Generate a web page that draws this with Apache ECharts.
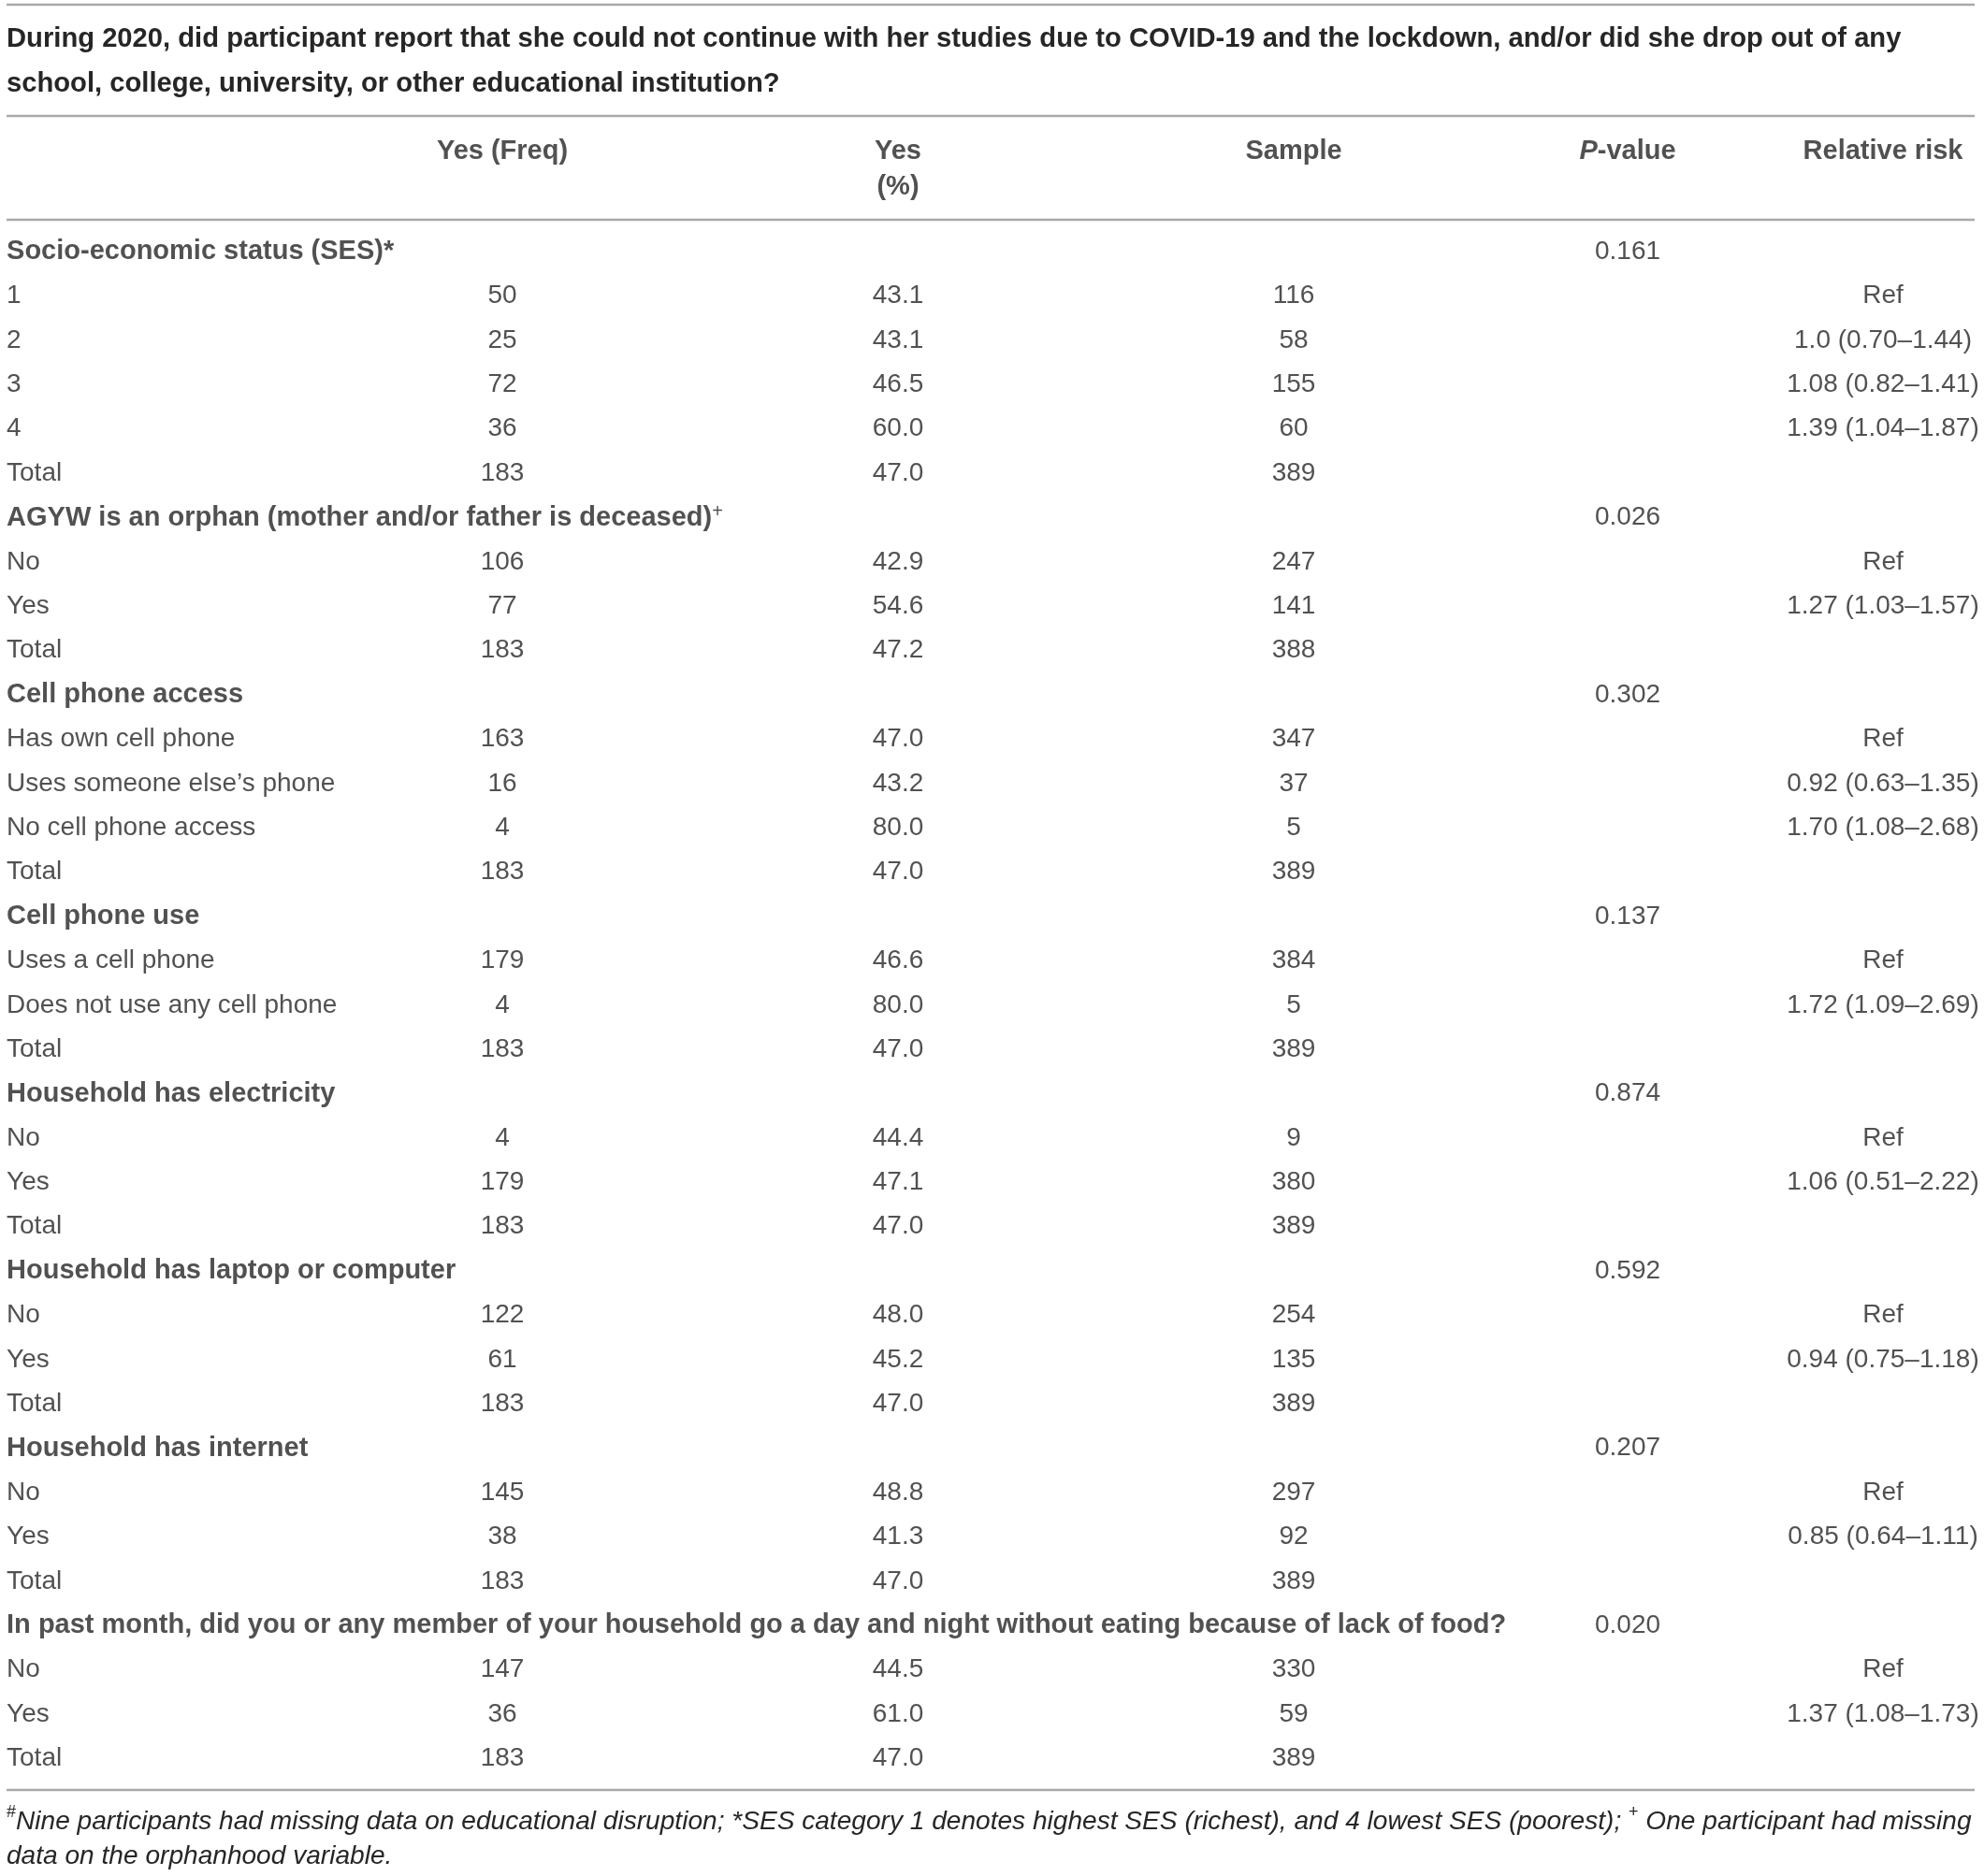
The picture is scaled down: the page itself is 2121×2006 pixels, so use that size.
<!DOCTYPE html>
<html>
<head>
<meta charset="utf-8">
<script src="https://cdn.jsdelivr.net/npm/echarts/dist/echarts.min.js"></script>
<style>
html,body{margin:0;padding:0;background:#ffffff;}
#chart{width:2121px;height:2006px;}
</style>
</head>
<body>
<div id="chart"></div>
<script>
// ---------- DATA ----------
const titleLines = [
  'During 2020, did participant report that she could not continue with her studies due to COVID-19 and the lockdown, and/or did she drop out of any',
  'school, college, university, or other educational institution?'
];
const headerLine1 = ['', 'Yes (Freq)', 'Yes', 'Sample', 'P-value', 'Relative risk'];
const headerLine2 = ['', '', '(%)', '', '', ''];

const rowLabels = [
  'Socio-economic status (SES)*', '1', '2', '3', '4', 'Total',
  'AGYW is an orphan (mother and/or father is deceased)', 'No', 'Yes', 'Total',
  'Cell phone access', 'Has own cell phone', 'Uses someone else\u2019s phone', 'No cell phone access', 'Total',
  'Cell phone use', 'Uses a cell phone', 'Does not use any cell phone', 'Total',
  'Household has electricity', 'No', 'Yes', 'Total',
  'Household has laptop or computer', 'No', 'Yes', 'Total',
  'Household has internet', 'No', 'Yes', 'Total',
  'In past month, did you or any member of your household go a day and night without eating because of lack of food?', 'No', 'Yes', 'Total'
];
const groupRows = [0, 6, 10, 15, 19, 23, 27, 31];
const rowSuperscripts = {6: '+'};

const yesFreq = ['', '50', '25', '72', '36', '183', '', '106', '77', '183', '', '163', '16', '4', '183', '', '179', '4', '183', '', '4', '179', '183', '', '122', '61', '183', '', '145', '38', '183', '', '147', '36', '183'];
const yesPct = ['', '43.1', '43.1', '46.5', '60.0', '47.0', '', '42.9', '54.6', '47.2', '', '47.0', '43.2', '80.0', '47.0', '', '46.6', '80.0', '47.0', '', '44.4', '47.1', '47.0', '', '48.0', '45.2', '47.0', '', '48.8', '41.3', '47.0', '', '44.5', '61.0', '47.0'];
const sampleN = ['', '116', '58', '155', '60', '389', '', '247', '141', '388', '', '347', '37', '5', '389', '', '384', '5', '389', '', '9', '380', '389', '', '254', '135', '389', '', '297', '92', '389', '', '330', '59', '389'];
const pValue = ['0.161', '', '', '', '', '', '0.026', '', '', '', '0.302', '', '', '', '', '0.137', '', '', '', '0.874', '', '', '', '0.592', '', '', '', '0.207', '', '', '', '0.020', '', '', ''];
const relRisk = ['', 'Ref', '1.0 (0.70\u20131.44)', '1.08 (0.82\u20131.41)', '1.39 (1.04\u20131.87)', '', '', 'Ref', '1.27 (1.03\u20131.57)', '', '', 'Ref', '0.92 (0.63\u20131.35)', '1.70 (1.08\u20132.68)', '', '', 'Ref', '1.72 (1.09\u20132.69)', '', '', 'Ref', '1.06 (0.51\u20132.22)', '', '', 'Ref', '0.94 (0.75\u20131.18)', '', '', 'Ref', '0.85 (0.64\u20131.11)', '', '', 'Ref', '1.37 (1.08\u20131.73)', ''];

const footnoteParts = [
  {sup: '#', text: 'Nine participants had missing data on educational disruption; *SES category 1 denotes highest SES (richest), and 4 lowest SES (poorest); '},
  {sup: '+', text: ' One participant had missing'}
];
const footnoteLine2 = 'data on the orphanhood variable.';

// ---------- LAYOUT / STYLE ----------
const W = 2121, H = 2006;
const colPos = [7, 537, 960, 1383, 1740, 2013];   // column anchor positions along table width
const FONT = "'Liberation Sans', Arial, Helvetica, sans-serif";
const TXT = '#262626';
const RULE = '#a9a9a9';
const bodyTop = 245.5, bodyRowH = 47.39;
const headTop = 143, headRowH = 38;

const chart = echarts.init(document.getElementById('chart'), null, {renderer: 'canvas'});

const rowCats = rowLabels.map((_, i) => String(i));
const bodyCols = [rowLabels, yesFreq, yesPct, sampleN, pValue, relRisk];

const richBody = {
  n: {fontFamily: FONT, fontSize: 28, fontWeight: 'normal', color: TXT, lineHeight: 32},
  b: {fontFamily: FONT, fontSize: 29, fontWeight: 'bold', color: TXT, lineHeight: 32},
  sup: {fontFamily: FONT, fontSize: 20, fontWeight: 'normal', color: TXT, lineHeight: 18, verticalAlign: 'top'}
};

const series = [];
bodyCols.forEach((col, c) => {
  series.push({
    type: 'scatter',
    xAxisIndex: 0, yAxisIndex: 0,
    symbolSize: 0.1,
    silent: true,
    itemStyle: {color: 'rgba(0,0,0,0)'},
    label: {
      show: true,
      position: c === 0 ? 'right' : 'inside',
      distance: 0,
      align: c === 0 ? 'left' : 'center',
      verticalAlign: 'middle',
      rich: richBody,
      formatter: p => {
        const i = p.data.value[1];
        const t = col[i];
        if (c === 0) {
          const style = groupRows.indexOf(i) >= 0 ? 'b' : 'n';
          const sup = rowSuperscripts[i] ? '{sup|' + rowSuperscripts[i] + '}' : '';
          return '{' + style + '|' + t + '}' + sup;
        }
        return '{n|' + t + '}';
      }
    },
    emphasis: {disabled: true},
    data: col.map((t, i) => ({value: [colPos[c], i]})).filter((d, i) => col[i] !== '')
  });
});

const headCols = headerLine1.map((h, c) => [h, headerLine2[c]]);
const richHead = {
  h: {fontFamily: FONT, fontSize: 29, fontWeight: 'bold', color: TXT},
  hi: {fontFamily: FONT, fontSize: 29, fontWeight: 'bold', fontStyle: 'italic', color: TXT}
};
headCols.forEach((pair, c) => {
  if (c === 0) return;
  series.push({
    type: 'scatter',
    xAxisIndex: 1, yAxisIndex: 1,
    symbolSize: 0.1,
    silent: true,
    itemStyle: {color: 'rgba(0,0,0,0)'},
    label: {
      show: true, position: 'inside', align: 'center', verticalAlign: 'middle', rich: richHead,
      formatter: p => {
        const t = pair[p.data.value[1]];
        if (t.indexOf('P-') === 0) return '{hi|P}{h|' + t.slice(1) + '}';
        return '{h|' + t + '}';
      }
    },
    emphasis: {disabled: true},
    data: pair.map((t, r) => ({value: [colPos[c], r]})).filter((d, r) => pair[r] !== '')
  });
});

const footText = footnoteParts.map(f => '{sup|' + f.sup + '}{i|' + f.text + '}').join('') + '\n{i|' + footnoteLine2 + '}';

const option = {
  backgroundColor: '#ffffff',
  animation: false,
  title: [
    {
      text: titleLines.join('\n'),
      left: 7, top: 18, padding: 0,
      textStyle: {fontFamily: FONT, fontSize: 29.2, fontWeight: 'bold', color: TXT, lineHeight: 48}
    },
    {
      text: footText,
      left: 7, top: 1929.5, padding: 0,
      textStyle: {
        fontFamily: FONT, fontSize: 28.1, fontWeight: 'normal', color: TXT, lineHeight: 37,
        rich: {
          i: {fontFamily: FONT, fontSize: 28.1, fontWeight: 'normal', fontStyle: 'italic', color: TXT, lineHeight: 37},
          sup: {fontFamily: FONT, fontSize: 18, fontWeight: 'normal', color: TXT, lineHeight: 26, verticalAlign: 'top'}
        }
      }
    }
  ],
  grid: [
    {left: 0, width: W, top: bodyTop, height: bodyRowH * rowLabels.length},
    {left: 0, width: W, top: headTop, height: headRowH * 2}
  ],
  xAxis: [
    {type: 'value', gridIndex: 0, min: 0, max: W, show: false},
    {type: 'value', gridIndex: 1, min: 0, max: W, show: false}
  ],
  yAxis: [
    {type: 'category', gridIndex: 0, data: rowCats, inverse: true, show: false},
    {type: 'category', gridIndex: 1, data: ['l1', 'l2'], inverse: true, show: false}
  ],
  graphic: [5, 124, 235, 1914].map(y => ({
    type: 'line', silent: true,
    shape: {x1: 7, y1: y, x2: 2111, y2: y},
    style: {stroke: RULE, lineWidth: 2.5}
  })),
  series: series
};
chart.setOption(option);
</script>
</body>
</html>
